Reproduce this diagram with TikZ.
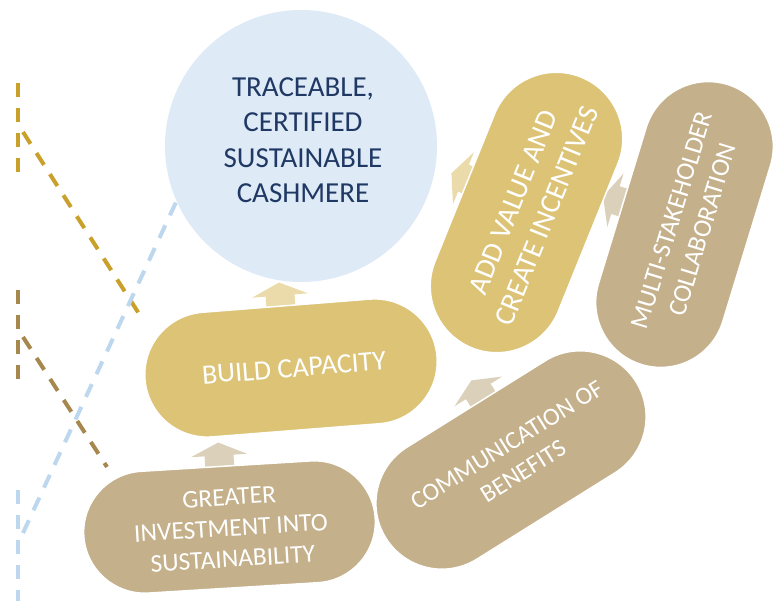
\documentclass[tikz,border=0pt]{standalone}
\usepackage{fontspec}
\setmainfont{Carlito}
\usetikzlibrary{shapes.misc}

\definecolor{goalblue}{HTML}{DEEAF6}
\definecolor{goalnavy}{HTML}{1F3864}
\definecolor{capgold}{HTML}{DCC376}
\definecolor{captan}{HTML}{C4B08A}
\definecolor{arrgold}{HTML}{EBDAAA}
\definecolor{arrtan}{HTML}{DBD0BA}
\definecolor{dashgold}{HTML}{C9A12A}
\definecolor{dashbrown}{HTML}{A6884E}
\definecolor{dashblue}{HTML}{BDD7EE}

\begin{document}
\begin{tikzpicture}[x=1pt,y=-1pt]

\tikzset{capsule/.style = {shape=rounded rectangle,draw=white,line width=1.5pt,inner sep=0pt}}
\tikzset{captext/.style = {text=white,align=center,inner sep=0pt}}
\tikzset{dashline/.style = {line width=4pt,dash pattern=on 14pt off 11pt}}
\tikzset{pics/blockarrow/.style = {code={
  \fill[#1] (-14.5,12.5) -- (-14.5,0.5) -- (-28,0.5) -- (0,-12.5) -- (28,0.5) -- (14.5,0.5) -- (14.5,12.5) -- cycle;}}}

\useasboundingbox (0,0) rectangle (782,601);

\coordinate (g1) at (18,83);
\coordinate (g2) at (18,180);
\coordinate (g3) at (23,132);
\coordinate (g4) at (143,320);
\coordinate (b1) at (18,290);
\coordinate (b2) at (18,385);
\coordinate (b3) at (23,337);
\coordinate (b4) at (107,467);
\coordinate (l1) at (18,490);
\coordinate (l2) at (18,605);
\coordinate (l3) at (23,533);
\coordinate (l4) at (177,200);

\draw[dashline, dashgold] (g1) -- (g2);
\draw[dashline, dashgold] (g3) -- (g4);
\draw[dashline, dashbrown] (b1) -- (b2);
\draw[dashline, dashbrown] (b3) -- (b4);
\draw[dashline, dashblue] (l1) -- (l2);
\draw[dashline, dashblue] (l3) -- (l4);

\node[circle, fill=goalblue, minimum size=272pt, inner sep=0pt] (goal) at (301,146) {};
\node[text=goalnavy, align=center, inner sep=0pt, font=\fontsize{29}{35.5}\selectfont] (goal-t) at (303,140)
  {TRACEABLE,\\CERTIFIED\\SUSTAINABLE\\CASHMERE};

\pic[rotate=4.5] at (280,295) {blockarrow=arrgold};
\pic[rotate=3.5] at (219,455) {blockarrow=arrtan};
\pic[rotate=32] at (478,391) {blockarrow=arrtan};
\pic[rotate=68] at (463,178) {blockarrow=arrgold};
\pic[rotate=73] at (615,200) {blockarrow=arrtan};

\node[capsule, fill=capgold, minimum width=293pt, minimum height=125pt, rotate=4.5] (build) at (291,368) {};
\node[capsule, fill=captan, minimum width=292pt, minimum height=122pt, rotate=3.5] (invest) at (229.5,527) {};
\node[capsule, fill=captan, minimum width=295pt, minimum height=132pt, rotate=32] (comm) at (511,460) {};
\node[capsule, fill=capgold, minimum width=292pt, minimum height=133pt, rotate=68] (value) at (526.5,212.5) {};
\node[capsule, fill=captan, minimum width=293pt, minimum height=130pt, rotate=73] (multi) at (684.5,224.5) {};

\node[captext, rotate=4.5, font=\fontsize{28}{34}\selectfont] (build-t) at (294,368) {BUILD CAPACITY};
\node[captext, rotate=3.5, font=\fontsize{25.5}{31}\selectfont] (invest-t) at (231,528) {GREATER\\INVESTMENT INTO\\SUSTAINABILITY};
\node[captext, rotate=32, font=\fontsize{25}{31}\selectfont] (comm-t) at (515,458) {COMMUNICATION OF\\BENEFITS};
\node[captext, rotate=68, font=\fontsize{29}{36}\selectfont] (value-t) at (530,209) {ADD VALUE AND\\CREATE INCENTIVES};
\node[captext, rotate=73, font=\fontsize{26}{32}\selectfont] (multi-t) at (687,225) {MULTI-STAKEHOLDER\\COLLABORATION};

\end{tikzpicture}
\end{document}
